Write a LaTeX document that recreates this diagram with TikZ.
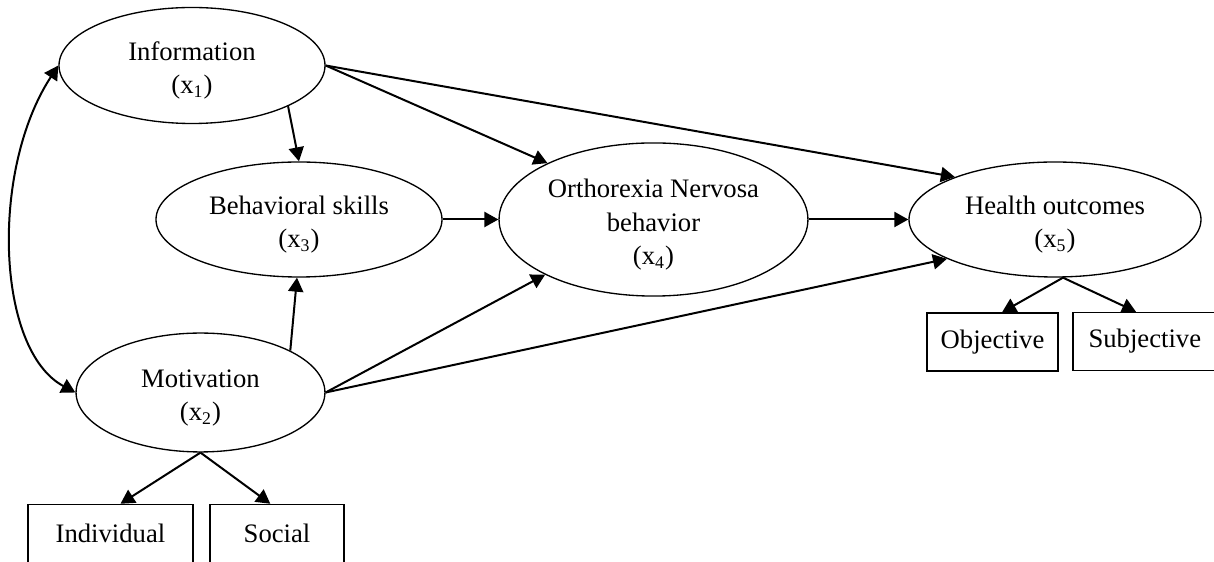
\documentclass[tikz,border=0pt]{standalone}
\usepackage{fontspec}
\setmainfont{Liberation Serif}
\usetikzlibrary{shapes.geometric,arrows.meta}
\newcommand{\lowtext}[1]{\raisebox{-2.3pt}[\height][\depth]{\begin{tabular}{@{}c@{}}#1\end{tabular}}}
\begin{document}
\begin{tikzpicture}[x=0.45pt,y=-0.45pt,
  ell/.style={draw, ellipse, line width=0.6pt, inner sep=0pt,
    font=\fontsize{12}{15}\selectfont},
  obox/.style={draw, rectangle, line width=0.65pt, inner sep=0pt,
    minimum height=26.1pt, font=\fontsize{12}{14.5}\selectfont},
  arr/.style={line width=0.9pt, -{Triangle[length=6.3pt,width=6.8pt]}},
  darr/.style={line width=0.9pt, {Triangle[length=6.3pt,width=6.8pt]}-{Triangle[length=6.3pt,width=6.8pt]}}
]
\useasboundingbox (0,0) rectangle (1214,562);

\node[ell, minimum width=119.7pt, minimum height=52.2pt] (info) at (192,65.5) {\lowtext{Information\\(x\textsubscript{1})}};
\node[ell, minimum width=128.7pt, minimum height=51.75pt] (bs) at (299,219.5) {\lowtext{Behavioral skills\\(x\textsubscript{3})}};
\node[ell, minimum width=112pt, minimum height=53.5pt] (mot) at (200.5,392.5) {\lowtext{Motivation\\(x\textsubscript{2})}};
\node[ell, minimum width=139pt, minimum height=68.9pt] (orth) at (653.5,219.5) {\lowtext{Orthorexia Nervosa\\behavior\\(x\textsubscript{4})}};
\node[ell, minimum width=131.4pt, minimum height=51.75pt] (health) at (1055,219.5) {\lowtext{Health outcomes\\(x\textsubscript{5})}};

\node[obox, minimum width=59pt] (obj) at (992.5,342) {Objective};
\node[obox, minimum width=80pt, text width=66pt, align=left] (subj) at (1161.9,341.5) {Subjective};
\node[obox, minimum width=74.25pt] (ind) at (110.5,533.5) {Individual};
\node[obox, minimum width=60.3pt] (soc) at (277,533.5) {Social};

\draw[arr] (info.-23.6) -- (bs.north);
\draw[arr] (info.east) -- (orth.152.9);
\draw[arr] (info.east) -- (health.157.9);
\draw[arr] (bs.east) -- (orth.west);
\draw[arr] (mot.25.6) -- ([xshift=-0.9pt]bs.south);
\draw[arr] (mot.east) -- (orth.207);
\draw[arr] (mot.east) -- (health.200.6);
\draw[arr] (orth.east) -- (health.west);
\draw[arr] (mot.south) -- ([xshift=4.5pt]ind.north);
\draw[arr] (mot.south) -- ([xshift=-3pt]soc.north);
\draw[arr] ([xshift=3.6pt]health.south) -- ([xshift=4.3pt]obj.north);
\draw[arr] ([xshift=3.6pt]health.south) -- ([xshift=-11.65pt]subj.north);
\draw[darr] (info.west) .. controls (-10,170) and (-4,350) .. (mot.west);
\end{tikzpicture}
\end{document}
